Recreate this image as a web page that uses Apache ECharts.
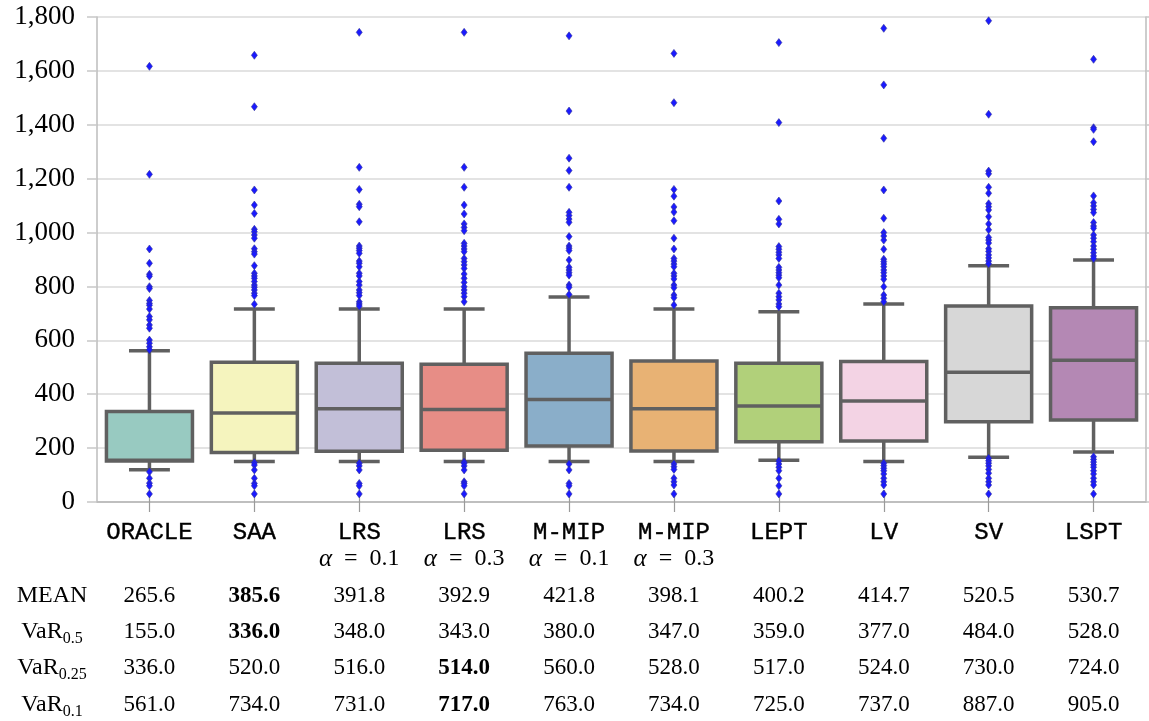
<!DOCTYPE html>
<html><head><meta charset="utf-8">
<script src="https://cdn.jsdelivr.net/npm/echarts@6/dist/echarts.min.js"></script>
<style>html,body{margin:0;padding:0;background:#fff}#c{width:1149px;height:721px}</style>
</head><body><div id="c"></div>
<script>
// ---- data ----
const categories = ['ORACLE','SAA','LRS','LRS','M-MIP','M-MIP','LEPT','LV','SV','LSPT'];
const alphaLabels = ['','','0.1','0.3','0.1','0.3','','','',''];
const whiskerLow  = [120, 150, 150, 150, 150, 150, 155, 150, 166, 186];
const q1          = [152, 184, 188, 192, 208, 189, 224, 226, 298, 304];
const median      = [155, 330, 346, 343, 380, 346, 356, 375, 482, 526];
const q3          = [336, 519, 515, 511, 552, 523, 515, 521, 727, 721];
const whiskerHigh = [561, 716, 716, 716, 761, 716, 706, 735, 877, 898];
const outliers = [
  [1617,1216,939,886,845,838,799,792,748,737,730,716,688,676,657,645,601,589,576,565,112,88,70,60,30],
  [1658,1467,1158,1102,1071,1012,1003,991,979,940,929,920,877,849,839,830,818,805,797,787,775,766,734,146,137,119,88,69,60,30],
  [1743,1242,1160,1105,1096,1040,950,942,933,923,894,886,873,849,839,818,805,787,777,766,743,735,727,144,134,119,69,60,30],
  [1743,1242,1168,1102,1069,1032,1019,1007,960,950,939,929,904,892,880,867,846,830,815,799,787,775,762,743,148,144,134,119,75,69,60,30],
  [1730,1451,1276,1230,1168,1075,1063,1050,1038,985,950,942,933,898,871,861,851,842,805,797,770,141,119,69,60,30],
  [1665,1482,1160,1135,1095,1076,1044,979,939,904,894,883,873,849,839,828,805,795,768,758,731,141,131,121,88,75,63,30],
  [1705,1408,1117,1049,1032,948,938,927,917,904,871,861,851,842,832,805,775,762,750,735,725,152,141,129,116,88,60,30],
  [1758,1548,1350,1158,1053,1000,987,972,938,901,892,883,873,861,851,839,827,799,768,756,743,144,135,125,116,104,88,75,63,30],
  [1786,1439,1228,1218,1168,1146,1107,1096,1084,1059,1032,1010,982,972,961,940,930,917,906,894,884,162,153,144,134,121,107,88,75,63,30],
  [1643,1389,1383,1337,1136,1111,1099,1086,1074,1037,1024,1016,991,979,966,950,938,925,913,904,168,158,148,138,129,116,104,88,75,63,30]
];
const meanRow   = [265.6,385.6,391.8,392.9,421.8,398.1,400.2,414.7,520.5,530.7];
const var05Row  = [155.0,336.0,348.0,343.0,380.0,347.0,359.0,377.0,484.0,528.0];
const var025Row = [336.0,520.0,516.0,514.0,560.0,528.0,517.0,524.0,730.0,724.0];
const var01Row  = [561.0,734.0,731.0,717.0,763.0,734.0,725.0,737.0,887.0,905.0];
const rowLabels = [['MEAN',''],['VaR','0.5'],['VaR','0.25'],['VaR','0.1']];
const yMin = 0, yMax = 1800, yStep = 200;

const boxColors = ['#98cac1','#f5f4be','#c2bfd8','#e78d86','#8aaec9','#e8b274','#b1d07a','#f3d3e4','#d7d7d7','#b488b4'];

// ---- build ----
const keys = categories.map((c,i)=>String(i));
const boxData = categories.map((c,i)=>[i, whiskerLow[i], q1[i], median[i], q3[i], whiskerHigh[i]]);
const outlierData = [];
outliers.forEach((arr,i)=>arr.forEach(v=>outlierData.push([i,v])));

const SERIF = '"Liberation Serif", "DejaVu Serif", serif';
const MONO = '"Liberation Mono", "DejaVu Sans Mono", monospace';
const STROKE = '#606060';
const LW = 3.5;

function renderBox(params, api) {
  const i = api.value(0);
  const lo = api.coord([i, api.value(1)]);
  const b1 = api.coord([i, api.value(2)]);
  const md = api.coord([i, api.value(3)]);
  const b3 = api.coord([i, api.value(4)]);
  const hi = api.coord([i, api.value(5)]);
  const band = api.size([1, 0])[0];
  const hw = band * 0.41, cw = band * 0.195;
  const x = lo[0];
  const st = {stroke: STROKE, lineWidth: LW};
  return {type:'group', children:[
    {type:'line', shape:{x1:x,y1:hi[1],x2:x,y2:b3[1]}, style:st},
    {type:'line', shape:{x1:x,y1:b1[1],x2:x,y2:lo[1]}, style:st},
    {type:'line', shape:{x1:x-cw,y1:hi[1],x2:x+cw,y2:hi[1]}, style:st},
    {type:'line', shape:{x1:x-cw,y1:lo[1],x2:x+cw,y2:lo[1]}, style:st},
    {type:'rect', shape:{x:x-hw,y:b3[1],width:2*hw,height:b1[1]-b3[1]},
      style:{fill: boxColors[i], stroke: STROKE, lineWidth: LW}},
    {type:'line', shape:{x1:x-hw,y1:md[1],x2:x+hw,y2:md[1]}, style:st}
  ]};
}

function bestIndex(row){ // lowest value excluding ORACLE
  let b = 1; for (let i=1;i<row.length;i++) if (row[i] < row[b]) b = i; return b;
}
function tableAxis(row, offset){
  const best = bestIndex(row);
  return {
    type:'category', data: keys, position:'bottom', offset: offset,
    axisLine:{show:false}, axisTick:{show:false}, splitLine:{show:false},
    axisLabel:{interval:0, margin:0, verticalAlign:'middle', color:'#000',
      fontFamily: SERIF, fontSize: 23,
      formatter:(v, idx)=>{ const t = row[idx].toFixed(1); return idx===best ? '{b|'+t+'}' : t; },
      rich:{ b:{fontFamily: SERIF, fontSize: 23, fontWeight:'bold', color:'#000'} }
    }
  };
}

const rows = [meanRow, var05Row, var025Row, var01Row];
const rowCenters = [596, 632, 668, 705];
const gridBottomY = 502;

const option = {
  animation:false,
  backgroundColor:'#fff',
  grid:{left:97, right:3, top:17, bottom:721-gridBottomY, containLabel:false},
  xAxis:[
    {type:'category', data: keys, position:'bottom',
      axisLine:{show:true, lineStyle:{color:'#bdbdbd', width:1.5}},
      axisTick:{show:true, alignWithLabel:true, length:10, lineStyle:{color:'#9a9a9a', width:1.2}},
      splitLine:{show:false},
      axisLabel:{interval:0, margin:18, color:'#000',
        formatter:(v, idx)=> alphaLabels[idx]
          ? '{t|'+categories[idx]+'}\n{a|α}{s|\u2002=\u2002'+alphaLabels[idx]+'}'
          : '{t|'+categories[idx]+'}',
        rich:{
          t:{fontFamily: MONO, fontSize: 24, lineHeight: 26, color:'#000', textBorderColor:'#000', textBorderWidth:0.4},
          a:{fontFamily: SERIF, fontStyle:'italic', fontSize: 25, lineHeight: 26, color:'#000'},
          s:{fontFamily: SERIF, fontSize: 24, lineHeight: 26, color:'#000'}
        }
      }
    },
    {type:'category', data: keys, position:'top',
      axisLine:{show:true, lineStyle:{color:'#bdbdbd', width:1.5}},
      axisTick:{show:true, alignWithLabel:true, length:12, lineStyle:{color:'#9a9a9a', width:1.2}},
      axisLabel:{show:false}, splitLine:{show:false}
    }
  ].concat(rows.map((r,k)=>tableAxis(r, rowCenters[k]-gridBottomY))),
  yAxis:[
    {type:'value', min:yMin, max:yMax, interval:yStep, position:'left',
      axisLine:{show:true, lineStyle:{color:'#bdbdbd', width:1.5}},
      axisTick:{show:true, length:10, lineStyle:{color:'#c8c8c8', width:1.5}},
      splitLine:{show:true, lineStyle:{color:'#dadada', width:1.5}},
      axisLabel:{margin:22, color:'#000', fontFamily: SERIF, fontSize: 27,
        formatter:(v)=> v.toLocaleString('en-US')}
    },
    {type:'value', min:yMin, max:yMax, interval:yStep, position:'right',
      axisLine:{show:true, lineStyle:{color:'#bdbdbd', width:1.5}},
      axisTick:{show:true, length:4, lineStyle:{color:'#c8c8c8', width:1.5}},
      splitLine:{show:false}, axisLabel:{show:false}
    }
  ],
  graphic: rowLabels.map((rl,k)=>({
    type:'text', x: 52, y: rowCenters[k], silent:true,
    style:{
      text: rl[1] ? '{m|'+rl[0]+'}{s|'+rl[1]+'}' : '{m|'+rl[0]+'}',
      align:'center', verticalAlign:'middle', fill:'#000',
      rich:{
        m:{fontFamily: SERIF, fontSize: 24, lineHeight: 30, fill:'#000'},
        s:{fontFamily: SERIF, fontSize: 16, lineHeight: 16, verticalAlign:'bottom', fill:'#000'}
      }
    }
  })),
  series:[
    {type:'custom', xAxisIndex:0, yAxisIndex:0, renderItem: renderBox,
      data: boxData, encode:{x:0, y:[1,2,3,4,5]}, z:2},
    {type:'scatter', xAxisIndex:0, yAxisIndex:0, data: outlierData,
      symbol:'diamond', symbolSize:[6,8],
      itemStyle:{color:'#1a1aff', borderColor:'#34349a', borderWidth:0.6, opacity:1}, z:5}
  ]
};
const chart = echarts.init(document.getElementById('c'), null, {renderer:'canvas'});
chart.setOption(option);
</script></body></html>
